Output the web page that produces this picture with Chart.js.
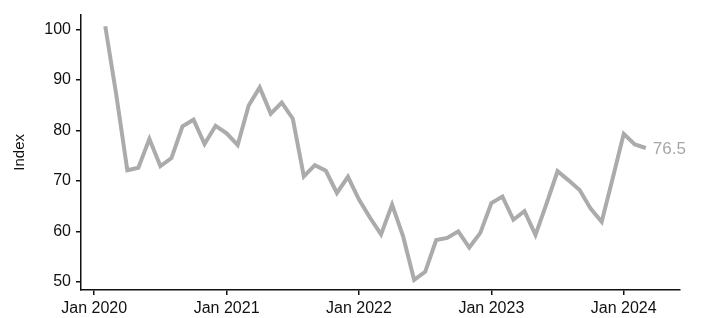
<!DOCTYPE html>
<html>
<head>
<meta charset="utf-8">
<script src="https://cdn.jsdelivr.net/npm/chart.js@4"></script>
<style>
  html, body { margin: 0; padding: 0; background: #fff; }
  #wrap { width: 704px; height: 318px; }
</style>
</head>
<body>
<div id="wrap"><canvas id="myChart" width="704" height="318"></canvas></div>
<script>
// months counted from Jan 2020 (0 = Jan 2020)
const months = [];
for (let m = 1; m <= 50; m++) months.push(m);

const indexValues = [
  100.6, 87, 72.1, 72.6, 78.3, 72.9, 74.5, 80.8, 82.1, 77.3,
  80.9, 79.4, 77.1, 84.9, 88.5, 83.3, 85.5, 82.3, 70.9, 73.1,
  72.0, 67.6, 70.8, 66.3, 62.7, 59.4, 65.3, 59.0, 50.4, 52.0,
  58.3, 58.7, 60.0, 56.8, 59.7, 65.6, 66.9, 62.3, 64.0, 59.3,
  65.5, 71.9, 70.1, 68.2, 64.5, 61.9, 70.5, 79.3, 77.2, 76.5
];

const xTickValues = [0, 12, 24, 36, 48];
const xTickLabels = ["Jan 2020", "Jan 2021", "Jan 2022", "Jan 2023", "Jan 2024"];
const yTickValues = [50, 60, 70, 80, 90, 100];
const lastLabel = "76.5";

const lineGrey = "#ababab";
const fontFamily = "'Liberation Sans', Arial, sans-serif";

/* writes the last value just right of the line end */
const endLabel = {
  id: "endLabel",
  afterDatasetsDraw(chart) {
    const meta = chart.getDatasetMeta(0);
    const pt = meta.data[meta.data.length - 1];
    const ctx = chart.ctx;
    ctx.save();
    ctx.fillStyle = "#a6a6a6";
    ctx.font = "17px " + fontFamily;
    ctx.textBaseline = "middle";
    ctx.textAlign = "left";
    ctx.fillText(lastLabel, pt.x + 7, pt.y + 1);
    ctx.restore();
  }
};

const data = {
  datasets: [
    {
      data: months.map((m, i) => ({ x: m, y: indexValues[i] })),
      borderColor: lineGrey,
      borderWidth: 4,
      pointRadius: 0,
      tension: 0,
      fill: false,
      clip: false
    }
  ]
};

const config = {
  type: "line",
  data: data,
  options: {
    responsive: false,
    animation: false,
    layout: { padding: { top: 10, right: 24, left: 0, bottom: 0 } },
    plugins: { legend: { display: false }, tooltip: { enabled: false } },
    scales: {
      x: {
        type: "linear",
        min: -1.2,
        max: 53.1,
        afterBuildTicks: (scale) => {
          scale.ticks = xTickValues.map((v) => ({ value: v }));
        },
        afterFit: (scale) => { scale.height = 28; },
        ticks: {
          color: "#111",
          font: { size: 16, family: fontFamily },
          padding: 4,
          maxRotation: 0,
          autoSkip: false,
          callback: (value) => xTickLabels[xTickValues.indexOf(value)]
        },
        grid: { drawOnChartArea: false, drawTicks: true, tickLength: 5, color: "#111", lineWidth: 1.5 },
        border: { color: "#111", width: 1.5 }
      },
      y: {
        min: 48.4,
        max: 102.9,
        afterBuildTicks: (scale) => {
          scale.ticks = yTickValues.map((v) => ({ value: v }));
        },
        afterFit: (scale) => { scale.width = 81; },
        ticks: {
          color: "#111",
          font: { size: 16, family: fontFamily },
          padding: 5
        },
        title: {
          display: true,
          text: "Index",
          color: "#111",
          font: { size: 15, family: fontFamily },
          padding: { top: 11, bottom: 0 }
        },
        grid: { drawOnChartArea: false, drawTicks: true, tickLength: 5, color: "#111", lineWidth: 1.5 },
        border: { color: "#111", width: 1.5 }
      }
    }
  },
  plugins: [endLabel]
};

const chart = new Chart(document.querySelector("#myChart"), config);
</script>
</body>
</html>
